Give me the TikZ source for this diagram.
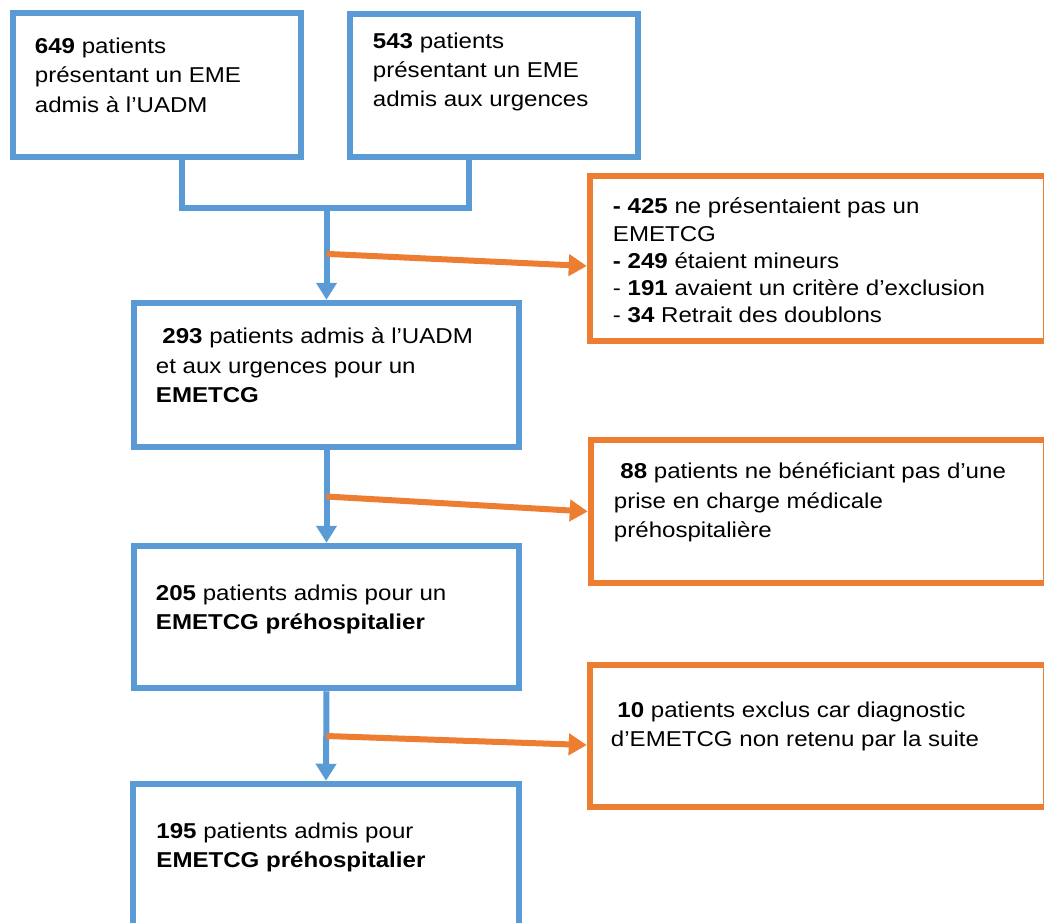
\documentclass[tikz,border=0pt]{standalone}
\usepackage{fontspec}
\setmainfont{Liberation Sans}[FakeStretch=1.12]
\usetikzlibrary{arrows.meta,calc,positioning}
\definecolor{flowblue}{HTML}{5B9BD5}
\definecolor{floworange}{HTML}{ED7D31}
\tikzset{
	incl/.style 2 args={draw=flowblue,line width=6.5pt,inner sep=0pt,
		minimum width=#1,minimum height=#2},
	excl/.style 2 args={draw=floworange,line width=6.5pt,inner sep=0pt,
		minimum width=#1,minimum height=#2},
	txt/.style={inner sep=0pt,align=left,font=\fontsize{21.5}{29.3}\selectfont},
	txt tight/.style={txt,font=\fontsize{21.5}{27.3}\selectfont},
	bluelink/.style={draw=flowblue,line width=6pt},
	flow/.style={bluelink,-{Triangle[length=17pt,width=20pt]}},
	drop/.style={draw=floworange,line width=6pt,-{Triangle[length=18pt,width=21pt]}}
}

\begin{document}
\begin{tikzpicture}[x=1pt,y=-1pt]
  \useasboundingbox (0,0) rectangle (1044,923);
  % inclusion boxes
  \node [incl={288pt}{144pt}] (A) at (157,85) {};
  \node [incl={288pt}{143pt}] (B) at (494,85.5) {};
  \node [incl={385pt}{144pt}] (C) at (326.5,375) {};
  \node [incl={385pt}{142pt}] (E) at (326.5,617) {};
  \node [incl={386pt}{144pt}] (G) at (326,856) {};
  % exclusion boxes
  \node [excl={456pt}{165pt}] (D) at (818,258.5) {};
  \node [excl={455pt}{143pt}] (F) at (818.5,511.5) {};
  \node [excl={456pt}{142pt}] (H) at (818,736) {};
  % texts
  \node [txt, below right=28pt and 25pt of A.north west] (tA)
    {\textbf{649} patients\\présentant un EME\\admis à l’UADM};
  \node [txt, below right=21.5pt and 26pt of B.north west] (tB)
    {\textbf{543} patients\\présentant un EME\\admis aux urgences};
  \node [txt tight, below right=25pt and 26pt of D.north west] (tD)
    {\textbf{- 425} ne présentaient pas un\\EMETCG\\\textbf{- 249} étaient mineurs\\
     - \textbf{191} avaient un critère d’exclusion\\- \textbf{34} Retrait des doublons};
  \node [txt, below right=28pt and 25pt of C.north west] (tC)
    {\hspace{0.3em}\textbf{293} patients admis à l’UADM\\et aux urgences pour un\\\textbf{EMETCG}};
  \node [txt, below right=26pt and 26pt of F.north west] (tF)
    {\hspace{0.3em}\textbf{88} patients ne bénéficiant pas d’une\\prise en charge médicale\\préhospitalière};
  \node [txt, below right=42pt and 25pt of E.north west] (tE)
    {\textbf{205} patients admis pour un\\\textbf{EMETCG préhospitalier}};
  \node [txt, below right=40pt and 24pt of H.north west] (tH)
    {\hspace{0.3em}\textbf{10} patients exclus car diagnostic\\d’EMETCG non retenu par la suite};
  \node [txt, below right=42pt and 26.5pt of G.north west] (tG)
    {\textbf{195} patients admis pour\\\textbf{EMETCG préhospitalier}};
  % connectors
  \coordinate (J) at (C.north |- 0,208);
  \draw [bluelink] ([xshift=25pt]A.south) |- (J) -| ([xshift=-25pt]B.south);
  \draw [flow] (J) -- (C.north);
  \draw [flow] (C.south) -- (E.north);
  \draw [flow] (E.south) -- (G.north);
  \draw [drop] ($(J)!0.5!(C.north)$) -- ([yshift=-7.5pt]D.west);
  \draw [drop] ($(C.south)!0.5!(E.north)$) -- (F.west);
  \draw [drop] ($(E.south)!0.5!(G.north)$) -- ([yshift=-9pt]H.west);
\end{tikzpicture}
\end{document}
